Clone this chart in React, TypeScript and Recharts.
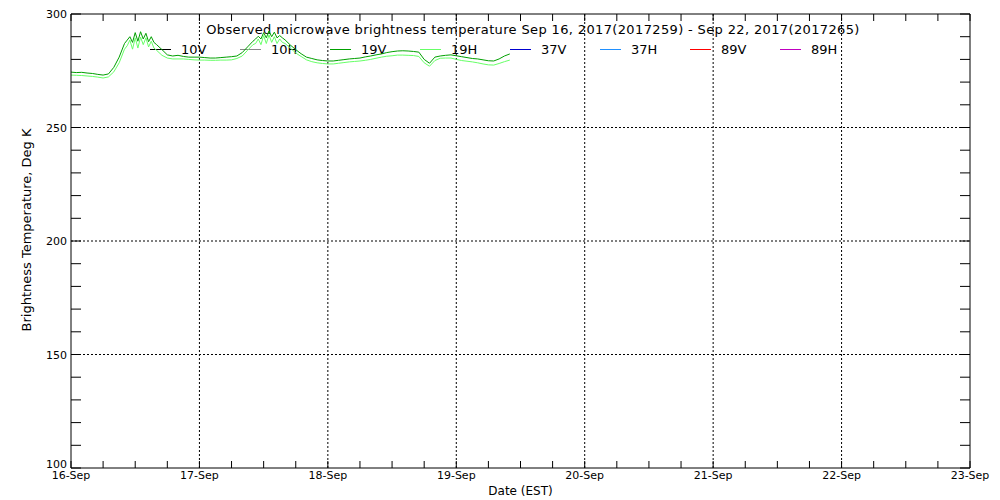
import {Line, LineChart, ReferenceLine, XAxis, YAxis, Label} from "recharts";

const title = "Observed microwave brightness temperature Sep 16, 2017(2017259) - Sep 22, 2017(2017265)";

// hours since 16-Sep 00:00 EST
const hours = [
  0, 1, 2, 3, 4, 5, 6, 7, 8, 9, 10,
  10.5, 11, 11.5, 12, 12.5, 13, 13.5, 14, 14.5, 15, 15.5, 16,
  17, 18, 19, 20, 21, 22, 23, 24, 25, 26, 27, 28, 29, 30, 31, 32, 33, 34,
  34.5, 35, 35.5, 36, 36.5, 37, 37.5, 38, 38.5, 39, 39.5, 40,
  41, 42, 43, 44, 45, 46, 47, 48, 49, 50, 51, 52, 53, 54, 55, 56, 57, 58, 59, 60, 61,
  62, 63, 64, 65, 66, 67, 68, 69, 70, 71, 72, 73, 74, 75, 76, 77, 78, 79, 80, 81, 82,
];

const tb19V = [
  274.4, 274.2, 274.3, 274.0, 273.8, 273.4, 273.1, 273.6, 276.5, 281.0, 287.0,
  288.5, 290.0, 287.5, 291.8, 288.0, 292.2, 289.0, 291.5, 287.8, 290.0, 287.5, 286.5,
  284.3, 282.0, 281.5, 281.8, 281.3, 281.0, 281.0, 281.0, 280.8, 280.6, 280.6, 280.8, 281.0, 281.2, 281.5, 283.0, 285.5, 288.0,
  289.0, 290.2, 289.0, 291.8, 289.5, 292.5, 290.0, 292.0, 289.5, 290.5, 289.5, 288.6,
  286.3, 284.3, 282.5, 281.0, 280.4, 279.8, 279.5, 279.3, 279.3, 279.6, 279.9, 280.2, 280.4, 280.6, 281.1, 281.5, 282.0, 282.4, 283.0, 283.4, 283.7,
  283.8, 283.7, 283.5, 283.2, 280.0, 278.3, 281.0, 281.5, 281.8, 282.0, 281.6, 281.2, 280.8, 280.4, 280.2, 279.8, 279.4, 279.3, 280.2, 281.5, 282.4,
];

const tb19H = [
  273.1, 273.0, 272.9, 272.7, 272.5, 272.2, 271.8, 272.3, 274.5, 278.5, 284.5,
  286.0, 288.5, 284.5, 289.5, 285.0, 289.8, 286.5, 289.5, 285.5, 288.0, 285.0, 284.0,
  281.8, 280.6, 280.2, 280.2, 280.2, 280.0, 279.8, 279.7, 279.7, 279.6, 279.6, 279.7, 279.7, 279.8, 280.4, 281.5, 284.0, 286.5,
  287.0, 289.0, 286.5, 290.5, 287.0, 290.8, 287.5, 290.0, 287.0, 289.0, 287.5, 287.0,
  285.0, 282.8, 281.3, 279.8, 279.0, 278.5, 278.2, 278.0, 278.0, 278.3, 278.6, 278.9, 279.1, 279.3, 279.6, 280.0, 280.5, 281.0, 281.4, 281.6, 281.9,
  281.9, 281.8, 281.7, 281.3, 278.5, 277.0, 279.5, 280.5, 280.6, 280.6, 280.0, 279.5, 279.2, 278.9, 278.5, 278.0, 277.6, 277.5, 278.2, 279.0, 279.7,
];

const series = [
  {key: "tb10V", name: "10V", color: "#000000"},
  {key: "tb10H", name: "10H", color: "#888888"},
  {key: "tb19V", name: "19V", color: "#00a000"},
  {key: "tb19H", name: "19H", color: "#66ff66"},
  {key: "tb37V", name: "37V", color: "#0000d0"},
  {key: "tb37H", name: "37H", color: "#2090ff"},
  {key: "tb89V", name: "89V", color: "#ff0000"},
  {key: "tb89H", name: "89H", color: "#c000c0"},
];

const dayLabels = ["16-Sep", "17-Sep", "18-Sep", "19-Sep", "20-Sep", "21-Sep", "22-Sep", "23-Sep"];
const xTicks = Array.from({length: 29}, (_, i) => i * 6);
const yTicks = Array.from({length: 21}, (_, i) => 100 + i * 10);
const dayLines = [24, 48, 72, 96, 120, 144];
const tempLines = [150, 200, 250];

const data = hours.map((h, i) => ({h, tb19V: tb19V[i], tb19H: tb19H[i]}));

const font = "DejaVu Sans, sans-serif";

const BottomTick = ({x, y, payload}: any) => (
  <g>
    <line x1={x} y1={y} x2={x} y2={y - 7} stroke="#000"/>
    {payload.value % 24 === 0 && (
      <text x={x} y={y + 11} textAnchor="middle" fontSize={11} fontFamily={font} fill="#000">
        {dayLabels[payload.value / 24]}
      </text>
    )}
  </g>
);

const TopTick = ({x, y}: any) => <line x1={x} y1={y} x2={x} y2={y + 7} stroke="#000"/>;

const LeftTick = ({x, y, payload}: any) => (
  <g>
    <line x1={x} y1={y} x2={x + 10} y2={y} stroke="#000"/>
    {payload.value % 50 === 0 && (
      <text x={x - 4} y={payload.value === 100 ? y : y + 4} textAnchor="end" fontSize={11} fontFamily={font} fill="#000">
        {payload.value}
      </text>
    )}
  </g>
);

const RightTick = ({x, y}: any) => <line x1={x} y1={y} x2={x - 10} y2={y} stroke="#000"/>;

function App() {
  return (
    <div style={{position: "absolute", left: 0, top: 0, width: 1000, height: 500, background: "#fff"}}>
      <div style={{position: "absolute", left: 0, top: 22, width: 1066, textAlign: "center", fontFamily: font, fontSize: 13, lineHeight: "16px", letterSpacing: "0.36px"}}>
        {title}
      </div>
      {series.map((s, i) => (
        <div key={s.key} style={{position: "absolute", left: 150 + i * 90, top: 42, height: 16, width: 90, fontFamily: font, fontSize: 13, lineHeight: "16px"}}>
          <div style={{position: "absolute", left: 0, top: 7, width: 21, height: 0, borderTop: "1px solid " + s.color}}/>
          <span style={{position: "absolute", left: 31, top: 0}}>{s.name}</span>
        </div>
      ))}
      <LineChart width={1000} height={500} data={data} margin={{top: 0, right: 0, bottom: 0, left: 0}}>
        <XAxis xAxisId="b" dataKey="h" type="number" domain={[0, 168]} ticks={xTicks} interval={0}
               tickSize={0} tickMargin={0} tick={<BottomTick/>} height={32} stroke="#000" allowDataOverflow>
          <Label value="Date (EST)" position="insideBottom" offset={5} fontSize={12} fontFamily={font} fill="#000"/>
        </XAxis>
        <XAxis xAxisId="t" orientation="top" dataKey="h" type="number" domain={[0, 168]} ticks={xTicks} interval={0}
               tickSize={0} tickMargin={0} tick={<TopTick/>} height={14} stroke="#000" allowDataOverflow/>
        <YAxis yAxisId="l" domain={[100, 300]} ticks={yTicks} interval={0} tickSize={0} tickMargin={0}
               tick={<LeftTick/>} width={71} stroke="#000" allowDataOverflow>
          <Label
            content={({viewBox}: any) => {
              const cx = viewBox.x + 31;
              const cy = viewBox.y + 216;
              return (
                <text x={cx} y={cy} transform={`rotate(-90 ${cx} ${cy})`}
                      textAnchor="middle" fontSize={13} fontFamily={font} fill="#000">
                  Brightness Temperature, Deg K
                </text>
              );
            }}
          />
        </YAxis>
        <YAxis yAxisId="r" orientation="right" domain={[100, 300]} ticks={yTicks} interval={0} tickSize={0} tickMargin={0}
               tick={<RightTick/>} width={30} stroke="#000" allowDataOverflow/>
        {dayLines.map((d) => (
          <ReferenceLine key={d} xAxisId="b" yAxisId="l" x={d} stroke="#000" strokeDasharray="2 2"/>
        ))}
        {tempLines.map((t) => (
          <ReferenceLine key={t} xAxisId="b" yAxisId="l" y={t} stroke="#000" strokeDasharray="2 2"/>
        ))}
        {series.map((s) => (
          <Line key={s.key} xAxisId="b" yAxisId="l" type="linear" dataKey={s.key} name={s.name} stroke={s.color}
                strokeWidth={1} dot={false} activeDot={false} isAnimationActive={false}/>
        ))}
      </LineChart>
    </div>
  );
}

export default App;
